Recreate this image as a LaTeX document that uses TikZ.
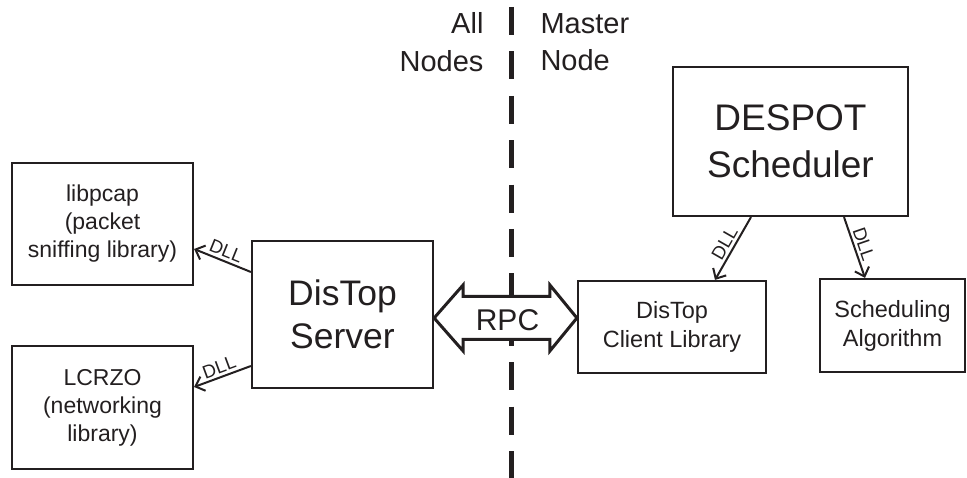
\documentclass[tikz,border=0pt]{standalone}
\usepackage{fontspec}
\setmainfont{Liberation Sans}
\usetikzlibrary{arrows.meta,calc}
\definecolor{ink}{RGB}{35,31,32}
\tikzset{
  box/.style={draw=ink, line width=2.2pt, rectangle, inner sep=0pt, align=center, text=ink},
  small/.style={font=\fontsize{23.5}{29}\selectfont},
  dll/.style={draw=ink, line width=2pt, -{Straight Barb[length=8pt,width=15pt,line width=2pt]}},
  dlltext/.style={font=\fontsize{18.5}{18.5}\selectfont, text=ink, inner sep=2.5pt, sloped, above},
  divider/.style={draw=ink, line width=5pt, dash pattern=on 28pt off 16.4pt},
  rpc/.style={draw=ink, fill=white, line width=3pt, line join=miter}
}
\begin{document}
\begin{tikzpicture}[x=1pt, y=-1pt]
\useasboundingbox (0,0) rectangle (967,478);

% divider between the two sides
\coordinate (divtop) at (511,7);
\coordinate (divbot) at (511,478);
\draw[divider] (divtop) -- (divbot);

\node[text=ink, align=right, anchor=east, font=\fontsize{29}{37.5}\selectfont] (allnodes) at (487,42) {All\\Nodes};
\node[text=ink, align=left, anchor=west, font=\fontsize{29}{37.5}\selectfont] (masternode) at (537,42) {Master\\Node};

% boxes
\node[box, font=\fontsize{23}{28}\selectfont, minimum width=181pt, minimum height=122pt] (libpcap) at (102.5,224) {libpcap\\(packet\\sniffing library)};
\node[box, font=\fontsize{23}{28}\selectfont, minimum width=181pt, minimum height=123pt] (lcrzo) at (102.5,407.5) {LCRZO\\(networking\\library)};
\node[box, font=\fontsize{35.5}{43}\selectfont, minimum width=181pt, minimum height=147pt] (server) at (342.5,314.5) {DisTop\\Server};
\node[box, small, minimum width=188pt, minimum height=92pt] (client) at (672,327) {DisTop\\Client Library};
\node[box, small, minimum width=145pt, minimum height=93pt] (sched) at (892.5,325.5) {Scheduling\\Algorithm};
\node[box, font=\fontsize{37}{47}\selectfont, minimum width=235pt, minimum height=149pt] (despot) at (790.5,141.5) {DESPOT\\Scheduler};

% library links
\draw[dll] (server.west |- 0,272) -- (libpcap.east |- 0,249) node[dlltext, midway] {DLL};
\draw[dll] (server.west |- 0,366) -- (lcrzo.east |- 0,387) node[dlltext, midway] {DLL};
\draw[dll] (despot.south -| 751,0) -- (client.north -| 715,0) node[dlltext, midway] {DLL};
\draw[dll] (despot.south -| 844,0) -- (sched.north -| 865,0) node[dlltext, midway] {DLL};

% RPC double arrow between server and client library
\coordinate (rpcL) at (server.east |- 0,318);
\coordinate (rpcR) at (client.west |- 0,318);
\draw[rpc] (rpcL) -- ($(rpcL)+(29,-33)$) -- ($(rpcL)+(29,-21.5)$) -- ($(rpcR)+(-27,-21.5)$)
  -- ($(rpcR)+(-27,-33)$) -- (rpcR) -- ($(rpcR)+(-27,33)$) -- ($(rpcR)+(-27,21.5)$)
  -- ($(rpcL)+(29,21.5)$) -- ($(rpcL)+(29,33)$) -- cycle;
\node[text=ink, font=\fontsize{30}{30}\selectfont] (rpclabel) at ($(rpcL)!0.5!(rpcR)+(2,2)$) {RPC};
\end{tikzpicture}
\end{document}
